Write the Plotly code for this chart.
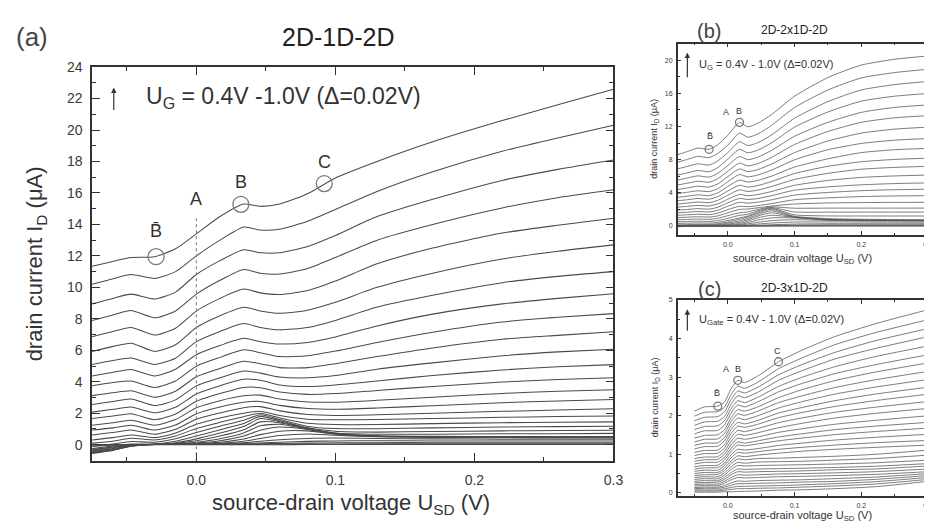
import plotly.graph_objects as go

# Gate voltages (V), top curve first
UG = [1.00, 0.98, 0.96, 0.94, 0.92, 0.90, 0.88, 0.86, 0.84, 0.82, 0.80,
      0.78, 0.76, 0.74, 0.72, 0.70, 0.68, 0.66, 0.64, 0.62, 0.60,
      0.58, 0.56, 0.54, 0.52, 0.50, 0.48, 0.46, 0.44, 0.42, 0.40]

# ---------------- panel (a) 2D-1D-2D ----------------
X_A = [-0.075, -0.06, -0.047, -0.03, -0.015, 0.0, 0.017, 0.034, 0.046, 0.06,
       0.08, 0.1, 0.13, 0.17, 0.22, 0.26, 0.3]
ID_A = [
    [11.34, 11.65, 11.9, 11.95, 12.45, 13.4, 14.5, 15.3, 15.15, 15.3, 15.95, 16.95, 18.0, 19.25, 20.6, 21.6, 22.6],
    [10.2, 10.55, 10.82, 10.57, 11.0, 12.0, 13.0, 13.84, 13.65, 13.7, 14.2, 14.95, 16.1, 17.35, 18.65, 19.5, 20.3],
    [8.95, 9.3, 9.57, 9.26, 9.7, 10.82, 11.7, 12.39, 12.2, 12.2, 12.6, 13.3, 14.5, 15.6, 16.8, 17.5, 18.1],
    [7.9, 8.25, 8.53, 8.07, 8.5, 9.57, 10.45, 11.14, 10.9, 10.85, 11.2, 11.9, 13.0, 14.0, 15.05, 15.7, 16.2],
    [6.86, 7.2, 7.45, 6.97, 7.4, 8.49, 9.3, 9.89, 9.65, 9.55, 9.8, 10.4, 11.5, 12.5, 13.45, 13.95, 14.4],
    [5.93, 6.25, 6.45, 5.93, 6.35, 7.45, 8.2, 8.74, 8.5, 8.35, 8.55, 9.05, 10.0, 10.9, 11.8, 12.3, 12.7],
    [5.1, 5.35, 5.51, 5.1, 5.5, 6.55, 7.2, 7.7, 7.45, 7.3, 7.45, 7.9, 8.75, 9.5, 10.3, 10.7, 11.0],
    [4.37, 4.6, 4.78, 4.37, 4.8, 5.72, 6.3, 6.76, 6.55, 6.4, 6.5, 6.85, 7.55, 8.3, 8.95, 9.3, 9.6],
    [3.74, 3.95, 4.05, 3.64, 4.05, 4.99, 5.55, 6.03, 5.85, 5.6, 5.65, 5.95, 6.5, 7.15, 7.8, 8.1, 8.33],
    [3.12, 3.3, 3.43, 3.02, 3.4, 4.32, 4.85, 5.3, 5.15, 4.9, 4.9, 5.15, 5.6, 6.15, 6.7, 6.95, 7.18],
    [2.55, 2.75, 2.91, 2.49, 2.85, 3.74, 4.25, 4.68, 4.55, 4.3, 4.25, 4.4, 4.8, 5.2, 5.65, 5.9, 6.07],
    [2.07, 2.25, 2.39, 2.03, 2.38, 3.22, 3.75, 4.16, 4.1, 3.8, 3.7, 3.8, 4.05, 4.4, 4.75, 4.95, 5.09],
    [1.66, 1.82, 1.97, 1.59, 1.95, 2.76, 3.25, 3.64, 3.62, 3.35, 3.2, 3.25, 3.45, 3.7, 3.98, 4.14, 4.26],
    [1.24, 1.4, 1.55, 1.24, 1.6, 2.35, 2.8, 3.11, 3.15, 2.9, 2.72, 2.7, 2.82, 3.02, 3.26, 3.4, 3.49],
    [0.93, 1.07, 1.24, 0.93, 1.25, 1.97, 2.4, 2.7, 2.75, 2.5, 2.3, 2.25, 2.33, 2.48, 2.67, 2.78, 2.87],
    [0.62, 0.77, 0.93, 0.66, 0.98, 1.62, 2.02, 2.35, 2.42, 2.15, 1.92, 1.86, 1.9, 2.0, 2.12, 2.2, 2.28],
    [0.3, 0.45, 0.62, 0.45, 0.75, 1.3, 1.7, 2.0, 2.12, 1.85, 1.62, 1.58, 1.6, 1.66, 1.74, 1.79, 1.82],
    [0.1, 0.22, 0.41, 0.3, 0.55, 1.03, 1.42, 1.78, 2.0, 1.7, 1.36, 1.28, 1.28, 1.34, 1.4, 1.43, 1.45],
    [-0.1, 0.05, 0.2, 0.16, 0.38, 0.78, 1.18, 1.55, 1.9, 1.6, 1.16, 1.03, 1.02, 1.07, 1.12, 1.15, 1.17],
    [-0.25, -0.08, 0.04, 0.04, 0.22, 0.55, 0.95, 1.35, 1.8, 1.52, 1.08, 0.85, 0.8, 0.84, 0.88, 0.9, 0.92],
    [-0.35, -0.15, 0.0, 0.02, 0.12, 0.37, 0.74, 1.15, 1.66, 1.46, 1.04, 0.74, 0.66, 0.67, 0.69, 0.7, 0.72],
    [-0.4, -0.2, -0.02, 0.02, 0.08, 0.25, 0.55, 0.95, 1.45, 1.4, 1.02, 0.72, 0.56, 0.53, 0.52, 0.51, 0.51],
    [-0.45, -0.25, -0.04, 0.02, 0.06, 0.16, 0.38, 0.75, 1.2, 1.3, 1.0, 0.7, 0.55, 0.52, 0.51, 0.5, 0.5],
    [-0.5, -0.3, -0.06, 0.02, 0.05, 0.1, 0.25, 0.55, 0.92, 1.12, 0.97, 0.69, 0.54, 0.51, 0.5, 0.49, 0.49],
    [-0.5, -0.32, -0.08, 0.02, 0.04, 0.07, 0.16, 0.36, 0.64, 0.86, 0.88, 0.67, 0.53, 0.5, 0.48, 0.47, 0.47],
    [-0.52, -0.34, -0.09, 0.02, 0.03, 0.05, 0.1, 0.22, 0.4, 0.58, 0.68, 0.6, 0.5, 0.46, 0.44, 0.43, 0.43],
    [-0.55, -0.36, -0.1, 0.01, 0.02, 0.04, 0.06, 0.12, 0.22, 0.32, 0.4, 0.42, 0.4, 0.37, 0.35, 0.34, 0.34],
    [-0.3, -0.15, -0.03, 0.01, 0.02, 0.03, 0.04, 0.07, 0.11, 0.16, 0.21, 0.24, 0.25, 0.24, 0.23, 0.23, 0.23],
    [-0.1, -0.04, 0.0, 0.01, 0.02, 0.02, 0.03, 0.04, 0.06, 0.08, 0.1, 0.12, 0.13, 0.13, 0.13, 0.13, 0.13],
    [0.0, 0.0, 0.0, 0.01, 0.01, 0.01, 0.01, 0.02, 0.02, 0.03, 0.04, 0.05, 0.06, 0.06, 0.06, 0.06, 0.06],
    [0.0, 0.0, 0.0, 0.0, 0.0, 0.0, 0.0, 0.0, 0.0, 0.0, 0.01, 0.01, 0.01, 0.01, 0.01, 0.01, 0.01],
]
MARK_A_X = [-0.029, 0.032, 0.092]
MARK_A_Y = [11.95, 15.28, 16.6]
LABEL_A = ["B\u0304", "A", "B", "C"]
LABEL_A_X = [-0.029, 0.0, 0.032, 0.092]
LABEL_A_Y = [13.6, 15.6, 16.7, 18.0]
A_LINE_Y = [-1.05, 14.4]

# ---------------- panel (b) 2D-2x1D-2D ----------------
X_B = [-0.075, -0.06, -0.045, -0.028, -0.015, 0.0, 0.0175, 0.03, 0.045, 0.065,
       0.1, 0.15, 0.2, 0.25, 0.3]
ID_B = [
    [8.6, 9.0, 9.4, 9.25, 9.8, 10.95, 12.5, 11.95, 12.4, 13.4, 15.65, 17.9, 19.4, 20.1, 20.5],
    [7.7, 8.05, 8.4, 8.25, 8.75, 9.75, 11.2, 10.7, 11.1, 12.1, 14.28, 16.4, 17.85, 18.5, 18.9],
    [6.9, 7.2, 7.5, 7.35, 7.85, 8.85, 10.15, 9.7, 10.05, 10.95, 13.0, 15.0, 16.4, 17.05, 17.43],
    [6.15, 6.42, 6.7, 6.55, 7.05, 8.05, 9.24, 8.82, 9.15, 10.0, 11.92, 13.75, 15.05, 15.65, 15.98],
    [5.55, 5.8, 6.05, 5.9, 6.35, 7.3, 8.38, 8.0, 8.3, 9.1, 10.82, 12.5, 13.7, 14.3, 14.6],
    [4.95, 5.17, 5.4, 5.28, 5.7, 6.6, 7.59, 7.25, 7.52, 8.25, 9.83, 11.4, 12.5, 13.05, 13.3],
    [4.4, 4.6, 4.8, 4.7, 5.08, 5.95, 6.88, 6.57, 6.8, 7.45, 8.85, 10.25, 11.2, 11.68, 11.92],
    [3.9, 4.08, 4.25, 4.15, 4.5, 5.35, 6.21, 5.93, 6.15, 6.72, 7.98, 9.2, 9.95, 10.35, 10.55],
    [3.45, 3.6, 3.76, 3.67, 4.0, 4.78, 5.54, 5.3, 5.5, 6.0, 7.11, 8.1, 8.85, 9.2, 9.36],
    [3.05, 3.18, 3.32, 3.24, 3.55, 4.22, 4.91, 4.7, 4.88, 5.35, 6.33, 7.2, 7.75, 8.03, 8.18],
    [2.65, 2.77, 2.89, 2.82, 3.1, 3.72, 4.36, 4.17, 4.33, 4.75, 5.62, 6.35, 6.85, 7.07, 7.2],
    [2.28, 2.38, 2.48, 2.42, 2.67, 3.23, 3.81, 3.65, 3.8, 4.15, 4.91, 5.5, 5.86, 6.04, 6.14],
    [1.92, 2.0, 2.1, 2.04, 2.27, 2.8, 3.33, 3.2, 3.32, 3.65, 4.32, 4.72, 4.97, 5.12, 5.2],
    [1.6, 1.67, 1.75, 1.7, 1.9, 2.4, 2.86, 2.76, 2.88, 3.15, 3.73, 4.05, 4.26, 4.38, 4.44],
    [1.3, 1.36, 1.42, 1.38, 1.55, 1.98, 2.39, 2.33, 2.45, 2.7, 3.17, 3.4, 3.55, 3.63, 3.66],
    [1.02, 1.07, 1.12, 1.08, 1.22, 1.6, 2.0, 2.05, 2.2, 2.4, 2.66, 2.78, 2.83, 2.85, 2.86],
    [0.76, 0.8, 0.84, 0.81, 0.93, 1.25, 1.6, 1.7, 2.0, 2.3, 2.15, 2.16, 2.16, 2.16, 2.16],
    [0.52, 0.55, 0.58, 0.56, 0.66, 0.93, 1.29, 1.42, 1.85, 2.22, 1.7, 1.68, 1.68, 1.68, 1.68],
    [0.32, 0.34, 0.37, 0.36, 0.44, 0.67, 0.98, 1.2, 1.7, 2.15, 1.35, 1.22, 1.21, 1.21, 1.21],
    [0.15, 0.17, 0.2, 0.2, 0.28, 0.5, 0.82, 1.1, 1.55, 2.02, 1.18, 0.9, 0.82, 0.78, 0.75],
    [0.08, 0.09, 0.11, 0.12, 0.18, 0.35, 0.62, 0.92, 1.38, 1.84, 1.1, 0.8, 0.73, 0.71, 0.7],
    [0.04, 0.05, 0.06, 0.07, 0.11, 0.24, 0.45, 0.76, 1.2, 1.6, 1.07, 0.78, 0.71, 0.69, 0.68],
    [0.02, 0.03, 0.04, 0.04, 0.07, 0.15, 0.3, 0.58, 0.98, 1.3, 1.04, 0.76, 0.7, 0.68, 0.67],
    [0.01, 0.02, 0.02, 0.03, 0.04, 0.09, 0.18, 0.4, 0.72, 0.98, 0.98, 0.74, 0.68, 0.66, 0.65],
    [0.0, 0.01, 0.01, 0.02, 0.02, 0.05, 0.1, 0.25, 0.45, 0.65, 0.76, 0.68, 0.62, 0.6, 0.59],
    [0.0, 0.0, 0.01, 0.01, 0.01, 0.03, 0.05, 0.12, 0.24, 0.36, 0.48, 0.5, 0.48, 0.47, 0.46],
    [0.0, 0.0, 0.0, 0.0, 0.01, 0.02, 0.03, 0.05, 0.09, 0.15, 0.24, 0.28, 0.28, 0.28, 0.28],
    [0.0, 0.0, 0.0, 0.0, 0.0, 0.01, 0.02, 0.03, 0.05, 0.08, 0.12, 0.15, 0.16, 0.16, 0.16],
    [0.0, 0.0, 0.0, 0.0, 0.0, 0.01, 0.01, 0.02, 0.03, 0.04, 0.05, 0.06, 0.06, 0.06, 0.06],
    [0.0, 0.0, 0.0, 0.0, 0.0, 0.0, 0.0, 0.01, 0.01, 0.02, 0.02, 0.03, 0.03, 0.03, 0.03],
    [0.0, 0.0, 0.0, 0.0, 0.0, 0.0, 0.0, 0.0, 0.0, 0.0, 0.0, 0.0, 0.0, 0.0, 0.0],
]
MARK_B_X = [-0.028, 0.0175]
MARK_B_Y = [9.25, 12.5]
LABEL_B = ["B\u0304", "A", "B"]
LABEL_B_X = [-0.027, -0.002, 0.0175]
LABEL_B_Y = [10.9, 13.8, 13.9]

# ---------------- panel (c) 2D-3x1D-2D ----------------
X_C = [-0.05, -0.035, -0.015, -0.005, 0.005, 0.015, 0.025, 0.045, 0.076, 0.11,
       0.16, 0.22, 0.3]
ID_C = [
    [2.12, 2.23, 2.25, 2.36, 2.70, 2.92, 2.86, 3.03, 3.40, 3.69, 4.05, 4.38, 4.75],
    [1.99, 2.09, 2.11, 2.22, 2.55, 2.77, 2.71, 2.87, 3.22, 3.49, 3.84, 4.15, 4.49],
    [1.87, 1.96, 1.98, 2.10, 2.42, 2.64, 2.59, 2.74, 3.06, 3.32, 3.64, 3.94, 4.26],
    [1.75, 1.84, 1.86, 1.98, 2.30, 2.52, 2.47, 2.61, 2.92, 3.16, 3.47, 3.74, 4.05],
    [1.64, 1.72, 1.74, 1.87, 2.18, 2.39, 2.34, 2.48, 2.76, 2.99, 3.27, 3.53, 3.81],
    [1.53, 1.61, 1.62, 1.76, 2.07, 2.28, 2.23, 2.36, 2.62, 2.83, 3.09, 3.32, 3.58],
    [1.42, 1.49, 1.51, 1.64, 1.95, 2.16, 2.12, 2.23, 2.47, 2.67, 2.91, 3.13, 3.37],
    [1.32, 1.39, 1.40, 1.54, 1.85, 2.05, 2.01, 2.12, 2.34, 2.51, 2.73, 2.93, 3.15],
    [1.23, 1.29, 1.30, 1.44, 1.74, 1.94, 1.90, 2.0, 2.2, 2.36, 2.56, 2.74, 2.94],
    [1.14, 1.20, 1.21, 1.35, 1.64, 1.83, 1.79, 1.88, 2.07, 2.21, 2.39, 2.56, 2.74],
    [1.05, 1.10, 1.11, 1.25, 1.54, 1.73, 1.70, 1.78, 1.95, 2.08, 2.24, 2.39, 2.56],
    [0.97, 1.02, 1.03, 1.17, 1.44, 1.62, 1.59, 1.67, 1.82, 1.94, 2.09, 2.22, 2.37],
    [0.89, 0.93, 0.94, 1.08, 1.34, 1.52, 1.49, 1.56, 1.69, 1.8, 1.94, 2.06, 2.19],
    [0.82, 0.86, 0.87, 1.0, 1.25, 1.42, 1.39, 1.45, 1.57, 1.66, 1.78, 1.88, 2.0],
    [0.75, 0.79, 0.80, 0.92, 1.16, 1.32, 1.29, 1.35, 1.45, 1.53, 1.64, 1.73, 1.83],
    [0.68, 0.71, 0.72, 0.85, 1.08, 1.24, 1.22, 1.27, 1.35, 1.42, 1.51, 1.59, 1.68],
    [0.62, 0.65, 0.66, 0.77, 0.99, 1.13, 1.11, 1.15, 1.23, 1.29, 1.37, 1.44, 1.52],
    [0.56, 0.59, 0.59, 0.71, 0.91, 1.05, 1.03, 1.07, 1.13, 1.18, 1.24, 1.30, 1.36],
    [0.5, 0.53, 0.53, 0.64, 0.83, 0.96, 0.94, 0.98, 1.03, 1.08, 1.13, 1.18, 1.24],
    [0.45, 0.47, 0.48, 0.58, 0.76, 0.88, 0.86, 0.89, 0.90, 0.92, 0.95, 1.0, 1.11],
    [0.4, 0.42, 0.42, 0.52, 0.68, 0.79, 0.77, 0.80, 0.81, 0.82, 0.85, 0.89, 0.98],
    [0.35, 0.37, 0.37, 0.46, 0.61, 0.71, 0.70, 0.71, 0.72, 0.73, 0.75, 0.78, 0.85],
    [0.3, 0.32, 0.32, 0.40, 0.53, 0.62, 0.61, 0.62, 0.63, 0.64, 0.66, 0.69, 0.76],
    [0.26, 0.27, 0.28, 0.35, 0.47, 0.55, 0.54, 0.55, 0.56, 0.57, 0.6, 0.62, 0.7],
    [0.22, 0.23, 0.23, 0.30, 0.40, 0.47, 0.46, 0.47, 0.49, 0.50, 0.52, 0.55, 0.62],
    [0.18, 0.19, 0.19, 0.25, 0.34, 0.40, 0.39, 0.40, 0.42, 0.43, 0.45, 0.48, 0.55],
    [0.14, 0.15, 0.15, 0.19, 0.26, 0.31, 0.30, 0.32, 0.33, 0.34, 0.37, 0.41, 0.5],
    [0.11, 0.12, 0.12, 0.15, 0.20, 0.24, 0.24, 0.25, 0.26, 0.28, 0.30, 0.35, 0.45],
    [0.08, 0.08, 0.08, 0.11, 0.14, 0.17, 0.17, 0.18, 0.19, 0.21, 0.24, 0.29, 0.4],
    [0.05, 0.05, 0.05, 0.07, 0.09, 0.11, 0.11, 0.12, 0.13, 0.15, 0.18, 0.23, 0.35],
    [0.02, 0.02, 0.02, 0.03, 0.03, 0.04, 0.04, 0.05, 0.07, 0.08, 0.11, 0.16, 0.3],
]
MARK_C_X = [-0.015, 0.015, 0.076]
MARK_C_Y = [2.25, 2.92, 3.40]
LABEL_C = ["B\u0304", "A", "B", "C"]
LABEL_C_X = [-0.016, -0.002, 0.016, 0.075]
LABEL_C_Y = [2.58, 3.22, 3.22, 3.68]

FONT = "Liberation Sans, Arial, sans-serif"
INK = "#333333"
CIRCLE = "#7a7a7a"

fig = go.Figure()

def add_curves(xs, rows, xa, ya, color, width):
    for ug, row in zip(UG, rows):
        fig.add_trace(go.Scatter(
            x=xs, y=row, mode="lines", xaxis=xa, yaxis=ya,
            name=f"U_G={ug:.2f} V", showlegend=False, hoverinfo="skip",
            line=dict(color=color, width=width, shape="spline", smoothing=0.6)))

add_curves(X_A, ID_A, "x", "y", "#4a4a4a", 1.05)
add_curves(X_B, ID_B, "x2", "y2", "#5a5a5a", 0.8)
add_curves(X_C, ID_C, "x3", "y3", "#5a5a5a", 0.8)

# dotted line at A (U_SD = 0) in panel (a)
fig.add_trace(go.Scatter(x=[0.0, 0.0], y=A_LINE_Y, mode="lines", xaxis="x", yaxis="y",
                         showlegend=False, hoverinfo="skip",
                         line=dict(color="#8a8a8a", width=1.2, dash="dot")))

# feature circles
for mx, my, xa, ya, sz in [(MARK_A_X, MARK_A_Y, "x", "y", 16),
                           (MARK_B_X, MARK_B_Y, "x2", "y2", 8),
                           (MARK_C_X, MARK_C_Y, "x3", "y3", 8)]:
    fig.add_trace(go.Scatter(x=mx, y=my, mode="markers", xaxis=xa, yaxis=ya,
                             showlegend=False, hoverinfo="skip",
                             marker=dict(symbol="circle-open", size=sz, color=CIRCLE,
                                         line=dict(color=CIRCLE, width=1.3))))

def axis(domain, rng, dtick, mdtick, fs, tlen, anchor, fmt=None, standoff=4):
    d = dict(domain=domain, range=rng, dtick=dtick, tick0=0, ticks="inside",
             ticklen=tlen, tickwidth=1.2, tickcolor=INK,
             minor=dict(ticks="inside", ticklen=tlen * 0.55, dtick=mdtick, tick0=0,
                        tickcolor=INK, tickwidth=1),
             showline=True, linecolor=INK, linewidth=1.5, mirror="ticks",
             showgrid=False, zeroline=False, anchor=anchor,
             tickfont=dict(family=FONT, size=fs, color="#3a3a3a"),
             ticklabelstandoff=standoff)
    if fmt:
        d["tickformat"] = fmt
    return d

W, H = 932, 524
def px(x):
    return x / W
def py(y):
    return 1 - y / H

layout = dict(
    width=W, height=H, margin=dict(l=0, r=0, t=0, b=0),
    paper_bgcolor="white", plot_bgcolor="white", showlegend=False,
    xaxis=axis([px(85), px(612)], [-0.075, 0.3], 0.1, 0.05, 14, 8, "y", ".1f", 5),
    yaxis=axis([py(453), py(52)], [-1.05, 24], 2, 1, 14, 8, "x", None, 5),
    xaxis2=axis([px(677), px(930)], [-0.075, 0.3], 0.1, 0.05, 7, 4, "y2", ".1f", 2),
    yaxis2=axis([py(223), py(28)], [-1.1, 22], 4, 2, 7, 4, "x2", None, 2),
    xaxis3=axis([px(677), px(930)], [-0.075, 0.3], 0.1, 0.05, 7, 4, "y3", ".1f", 2),
    yaxis3=axis([py(488), py(289)], [-0.07, 5], 1, 0.5, 7, 4, "x3", None, 2),
)
fig.update_layout(**layout)

ann = []
def paper_text(text, x, y, size, color=INK, angle=0, xanchor="center"):
    ann.append(dict(text=text, x=px(x), y=py(y), xref="paper", yref="paper",
                    showarrow=False, xanchor=xanchor, yanchor="middle", textangle=angle,
                    font=dict(family=FONT, size=size, color=color)))

# panel labels and titles
paper_text("(a)", 24, 21, 26, "#444444")
paper_text("2D-1D-2D", 334, 21, 25, "#222222")
paper_text("(b)", 709, 15, 20, "#444444")
paper_text("2D-2x1D-2D", 795, 14, 12, "#222222")
paper_text("(c)", 709, 278, 20, "#444444")
paper_text("2D-3x1D-2D", 795, 277, 12, "#222222")

# axis titles
paper_text("source-drain voltage U<sub>SD</sub> (V)", 347, 497, 22)
paper_text("drain current I<sub>D</sub> (\u03bcA)", 28, 252, 22, angle=-90)
paper_text("source-drain voltage U<sub>SD</sub> (V)", 803, 247, 11)
paper_text("drain current I<sub>D</sub> (\u03bcA)", 654, 125, 9, angle=-90)
paper_text("source-drain voltage U<sub>SD</sub> (V)", 803, 509, 11)
paper_text("drain current I<sub>D</sub> (\u03bcA)", 654, 388, 9, angle=-90)

def data_text(text, x, y, xr, yr, size, xanchor="center"):
    ann.append(dict(text=text, x=x, y=y, xref=xr, yref=yr, showarrow=False,
                    xanchor=xanchor, yanchor="middle",
                    font=dict(family=FONT, size=size, color=INK)))

def data_arrow(x, y, xr, yr, ay):
    ann.append(dict(text="", x=x, y=y, xref=xr, yref=yr, ax=0, ay=ay,
                    showarrow=True, arrowhead=2, arrowsize=0.9, arrowwidth=1.2,
                    arrowcolor=INK))

# gate-voltage notes
data_text("U<sub>G</sub> = 0.4V -1.0V (\u0394=0.02V)", -0.0373, 22.06, "x", "y", 23, "left")
data_arrow(-0.0594, 22.7, "x", "y", 24)
data_text("U<sub>G</sub> = 0.4V - 1.0V (\u0394=0.02V)", -0.0454, 19.4, "x2", "y2", 11, "left")
data_arrow(-0.0606, 20.9, "x2", "y2", 26)
data_text("U<sub>Gate</sub> = 0.4V - 1.0V (\u0394=0.02V)", -0.0454, 4.47, "x3", "y3", 11, "left")
data_arrow(-0.0606, 4.76, "x3", "y3", 23)

# feature letters
for t, x, y in zip(LABEL_A, LABEL_A_X, LABEL_A_Y):
    data_text(t, x, y, "x", "y", 18)
for t, x, y in zip(LABEL_B, LABEL_B_X, LABEL_B_Y):
    data_text(t, x, y, "x2", "y2", 9)
for t, x, y in zip(LABEL_C, LABEL_C_X, LABEL_C_Y):
    data_text(t, x, y, "x3", "y3", 9)

fig.update_layout(annotations=ann)
fig.write_html("out.html")
